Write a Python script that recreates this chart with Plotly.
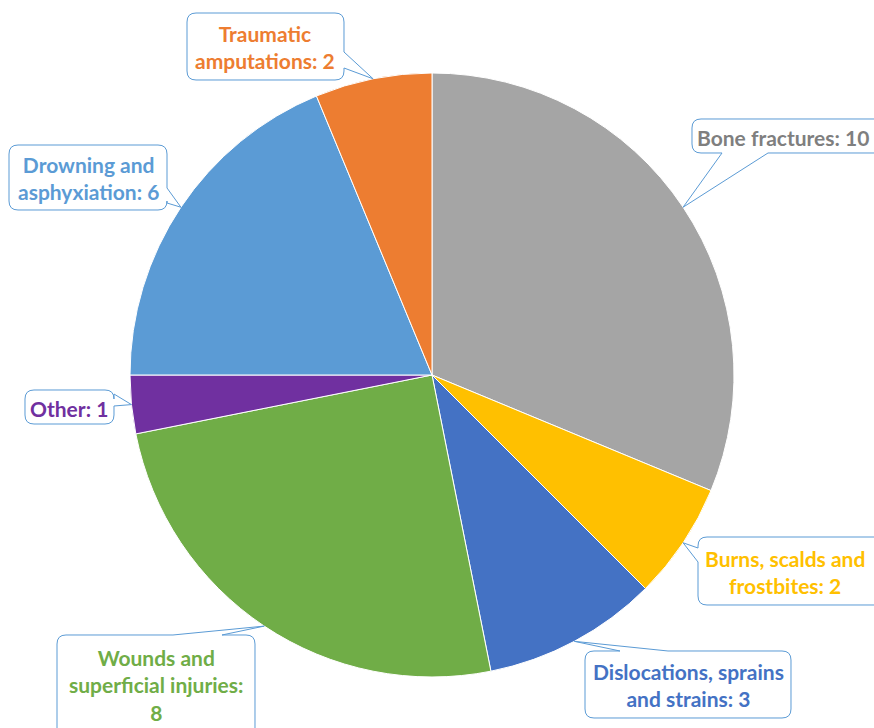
import numpy as np
import plotly.graph_objects as go

W, H = 874, 728

labels = [
    "Bone fractures",
    "Burns, scalds and frostbites",
    "Dislocations, sprains and strains",
    "Wounds and superficial injuries",
    "Other",
    "Drowning and asphyxiation",
    "Traumatic amputations",
]
values = [10, 2, 3, 8, 1, 6, 2]
colors = ["#A5A5A5", "#FFC000", "#4472C4", "#70AD47", "#7030A0", "#5B9BD5", "#ED7D31"]
text_colors = ["#7F7F7F", "#FFC000", "#4472C4", "#70AD47", "#7030A0", "#5B9BD5", "#ED7D31"]
label_text = [
    "Bone fractures: 10",
    "Burns, scalds and<br>frostbites: 2",
    "Dislocations, sprains<br>and strains: 3",
    "Wounds and<br>superficial injuries:<br>8",
    "Other: 1",
    "Drowning and<br>asphyxiation: 6",
    "Traumatic<br>amputations: 2",
]

# callout boxes in pixels: x0, y0, x1, y1, side of pointer, pointer base a, b
boxes = [
    (692, 119, 884, 153, "bottom", 722, 768),
    (698, 537, 884, 605, "left", 548, 562),
    (585, 651, 791, 718, "top", 620, 668),
    (57, 635, 255, 740, "top", 173, 222),
    (25, 390, 114, 424, "right", 394, 406),
    (9, 145, 167, 210, "right", 188, 203),
    (187, 13, 344, 80, "right", 52, 68),
]
# text centre in pixels (boxes cut by the page edge)
text_pos = [(783, 137), (785, 572), (688, 685), (156, 685), (69, 408), (88, 178), (265, 47)]

cx, cy, R = 432, 375, 302


def px(x, y):
    return f"{x / W:.5f},{1 - y / H:.5f}"


def callout(x0, y0, x1, y1, side, a, b, tip, r=9):
    t = px(*tip)
    p = "M" + px(x0 + r, y0)
    if side == "top":
        p += " L" + px(a, y0) + " L" + t + " L" + px(b, y0)
    p += " L" + px(x1 - r, y0) + " Q" + px(x1, y0) + " " + px(x1, y0 + r)
    if side == "right":
        p += " L" + px(x1, a) + " L" + t + " L" + px(x1, b)
    p += " L" + px(x1, y1 - r) + " Q" + px(x1, y1) + " " + px(x1 - r, y1)
    if side == "bottom":
        p += " L" + px(b, y1) + " L" + t + " L" + px(a, y1)
    p += " L" + px(x0 + r, y1) + " Q" + px(x0, y1) + " " + px(x0, y1 - r)
    if side == "left":
        p += " L" + px(x0, b) + " L" + t + " L" + px(x0, a)
    p += " L" + px(x0, y0 + r) + " Q" + px(x0, y0) + " " + px(x0 + r, y0) + " Z"
    return p


fig = go.Figure(
    go.Pie(
        labels=labels,
        values=values,
        sort=False,
        direction="clockwise",
        rotation=0,
        marker=dict(colors=colors, line=dict(color="white", width=1)),
        textinfo="none",
        hoverinfo="label+value",
        domain=dict(x=[(cx - R) / W, (cx + R) / W], y=[(H - cy - R) / H, (H - cy + R) / H]),
    )
)

total = sum(values)
start = 0.0
shapes = []
annotations = []
for i, v in enumerate(values):
    mid = np.radians((start + v / 2) / total * 360)
    start += v
    tip = (cx + R * np.sin(mid), cy - R * np.cos(mid))
    x0, y0, x1, y1, side, a, b = boxes[i]
    shapes.append(dict(
        type="path", xref="paper", yref="paper",
        path=callout(x0, y0, x1, y1, side, a, b, tip),
        fillcolor="white", line=dict(color="#5B9BD5", width=1),
    ))
    tx, ty = text_pos[i]
    annotations.append(dict(
        x=tx / W, y=1 - ty / H, xref="paper", yref="paper",
        xanchor="center", yanchor="middle",
        text=label_text[i], showarrow=False, align="center",
        font=dict(family="Lato", size=21, color=text_colors[i], weight="bold"),
    ))

fig.update_layout(
    width=W, height=H,
    margin=dict(l=0, r=0, t=0, b=0),
    paper_bgcolor="white",
    showlegend=False,
    shapes=shapes,
    annotations=annotations,
)

fig.write_html(
    "out.html",
    config={"displayModeBar": False},
    post_script="document.body.style.margin='0';",
)
